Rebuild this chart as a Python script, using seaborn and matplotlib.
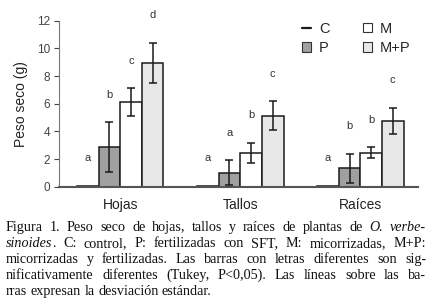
import matplotlib
matplotlib.use("Agg")
import matplotlib.pyplot as plt
import pandas as pd
import seaborn as sns
from matplotlib.lines import Line2D
from matplotlib.patches import Patch

# values
organs = ["Hojas", "Tallos", "Raíces"]
treatments = ["C", "P", "M", "M+P"]
mean_c = [0.05, 0.05, 0.05]
mean_p = [2.85, 1.0, 1.33]
mean_m = [6.1, 2.45, 2.46]
mean_mp = [8.95, 5.13, 4.75]
sd_c = [0.0, 0.0, 0.0]
sd_p = [1.8, 0.9, 1.06]
sd_m = [1.0, 0.72, 0.38]
sd_mp = [1.45, 1.05, 0.96]
letters_c = ["a", "a", "a"]
letters_p = ["b", "a", "b"]
letters_m = ["c", "b", "b"]
letters_mp = ["d", "c", "c"]
yticks = [0, 2, 4, 6, 8, 10, 12]

caption_lines = [
    "Figura 1. Peso seco de hojas, tallos y raíces de plantas de _O._ _verbe-_",
    "_sinoides_. C: control, P: fertilizadas con SFT, M: micorrizadas, M+P:",
    "micorrizadas y fertilizadas. Las barras con letras diferentes son sig-",
    "nificativamente diferentes (Tukey, P<0,05). Las líneas sobre las ba-",
    "rras expresan la desviación estándar.",
]

palette = {"C": "white", "P": "#a0a0a0", "M": "white", "M+P": "#e8e8e8"}
EDGE = "#1a1a1a"
W, H = 432, 306

sns.set_style("ticks")
plt.rcParams["font.family"] = ["Liberation Sans", "DejaVu Sans"]

means = {"C": mean_c, "P": mean_p, "M": mean_m, "M+P": mean_mp}
sds = {"C": sd_c, "P": sd_p, "M": sd_m, "M+P": sd_mp}
letters = {"C": letters_c, "P": letters_p, "M": letters_m, "M+P": letters_mp}

rows = []
for t in treatments:
    for i, o in enumerate(organs):
        rows.append({"organ": o, "treatment": t, "peso": means[t][i]})
df = pd.DataFrame(rows)

fig = plt.figure(figsize=(W / 100, H / 100), dpi=100)
ax = fig.add_axes([59 / W, 1 - 186.7 / H, (418 - 59) / W, (186.7 - 20.7) / H])

sns.barplot(
    data=df, x="organ", y="peso", hue="treatment", order=organs,
    hue_order=treatments, palette=palette, width=0.72, errorbar=None,
    edgecolor=EDGE, linewidth=1.1, legend=False, ax=ax,
)

for t, cont in zip(treatments, ax.containers):
    xs = [b.get_x() + b.get_width() / 2 for b in cont]
    if t != "C":
        ax.errorbar(xs, means[t], yerr=sds[t], fmt="none", ecolor=EDGE,
                    elinewidth=1.1, capsize=3, capthick=1.1, zorder=5)
    for x, m, s, lab in zip(xs, means[t], sds[t], letters[t]):
        ax.text(x, m + s + 2.0, lab, ha="center", va="center",
                fontsize=8, color="#333333")

ax.set_xlim(-0.51, 2.48)
ax.set_ylim(0, 12)
ax.set_yticks(yticks)
ax.set_xlabel("")
ax.set_ylabel("Peso seco (g)", fontsize=10, color="#222222", labelpad=6)
ax.tick_params(axis="y", labelsize=8.5, colors="#444444", length=3.5,
               width=0.8, pad=3)
ax.tick_params(axis="x", labelsize=10, colors="#222222", length=0, pad=8)
sns.despine(ax=ax)
ax.spines["left"].set_color("#777777")
ax.spines["left"].set_linewidth(0.8)
ax.spines["bottom"].set_color("#555555")
ax.spines["bottom"].set_linewidth(1.5)

handles = [
    Line2D([], [], color=EDGE, lw=1.6),
    Patch(facecolor=palette["P"], edgecolor="#333333", lw=0.8),
    Patch(facecolor=palette["M"], edgecolor="#333333", lw=0.8),
    Patch(facecolor=palette["M+P"], edgecolor="#333333", lw=0.8),
]
fig.legend(handles, treatments, ncol=2, frameon=False, fontsize=10.5,
           loc="upper left", bbox_to_anchor=(302 / W, 1 - 22 / H),
           borderpad=0, borderaxespad=0, handlelength=0.65,
           handleheight=0.6, handletextpad=0.5, columnspacing=2.3,
           labelspacing=0.35)

# justified caption, one word at a time
renderer = fig.canvas.get_renderer()
left, right = 6, 426
baselines = [231, 247, 263, 279, 295]
cap_kw = dict(fontsize=10.2, family="Liberation Serif", color="#111111",
              va="baseline", ha="left")
probe2 = fig.text(0, 0, "a a", **cap_kw)
probe1 = fig.text(0, 0, "a", **cap_kw)
space_w = (probe2.get_window_extent(renderer).width
           - 2 * probe1.get_window_extent(renderer).width)
probe1.remove()
probe2.remove()

for li, line in enumerate(caption_lines):
    words = []
    for w in line.split(" "):
        segs = []
        for k, part in enumerate(w.split("_")):
            if not part:
                continue
            txt = fig.text(0, 1 - baselines[li] / H, part,
                           style="italic" if k % 2 else "normal", **cap_kw)
            segs.append((txt, txt.get_window_extent(renderer).width))
        words.append(segs)
    widths = [sum(s[1] for s in segs) for segs in words]
    last = li == len(caption_lines) - 1
    gap = space_w if last else (right - left - sum(widths)) / (len(words) - 1)
    x = left
    for segs, wdt in zip(words, widths):
        xx = x
        for txt, sw in segs:
            txt.set_x(xx / W)
            xx += sw
        x += wdt + gap

fig.savefig("out.png", dpi=100)
